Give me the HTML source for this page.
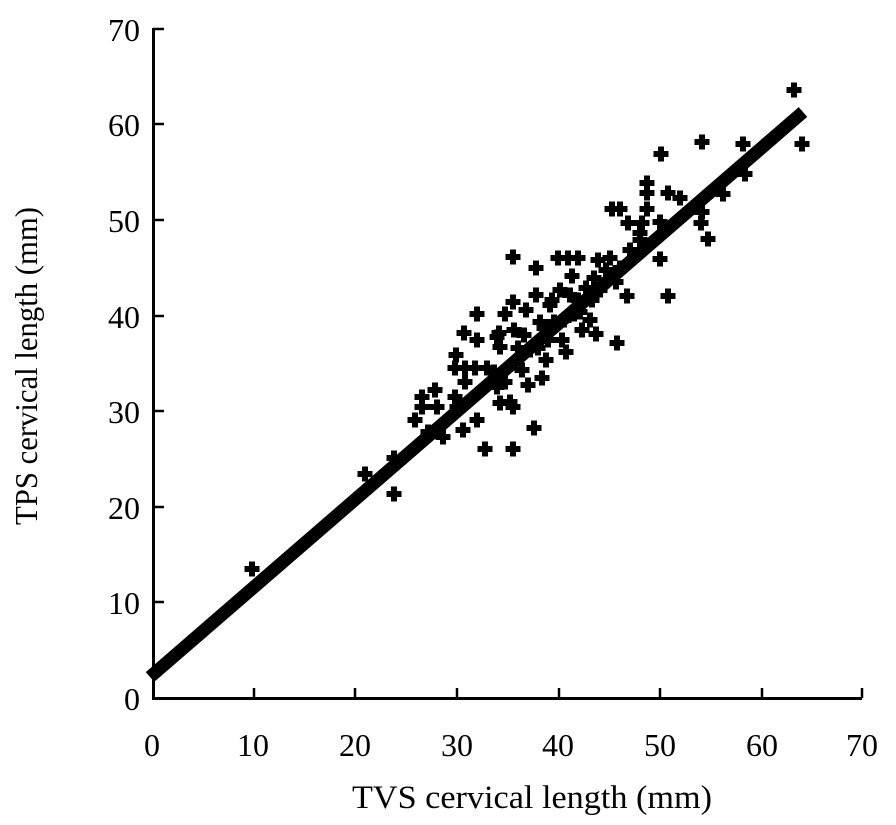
<!DOCTYPE html>
<html><head><meta charset="utf-8"><style>
html,body{margin:0;padding:0;background:#fff;}
svg{display:block;}
text{font-family:"Liberation Serif",serif;fill:#000;}
</style></head><body>
<svg width="896" height="825" viewBox="0 0 896 825" xmlns="http://www.w3.org/2000/svg">
<defs>
<path id="p" d="M-3,-7.5h6v4.5h4.5v6h-4.5v4.5h-6v-4.5h-4.5v-6h4.5z" fill="#000"/>
</defs>
<path d="M153.5,28V698.5H862" stroke="#000" stroke-width="3" fill="none"/>
<g stroke="#000" stroke-width="2.5">
<line x1="153" y1="602" x2="164" y2="602"/><line x1="153" y1="507" x2="164" y2="507"/>
<line x1="153" y1="411" x2="164" y2="411"/><line x1="153" y1="316" x2="164" y2="316"/>
<line x1="153" y1="220" x2="164" y2="220"/><line x1="153" y1="124" x2="164" y2="124"/>
<line x1="153" y1="29" x2="164" y2="29"/>
<line x1="254" y1="698" x2="254" y2="688"/><line x1="355" y1="698" x2="355" y2="688"/>
<line x1="457" y1="698" x2="457" y2="688"/><line x1="559" y1="698" x2="559" y2="688"/>
<line x1="660" y1="698" x2="660" y2="688"/><line x1="762" y1="698" x2="762" y2="688"/>
<line x1="862" y1="698" x2="862" y2="688"/>
</g>
<g font-size="32" text-anchor="end">
<text x="140" y="710">0</text><text x="140" y="614">10</text><text x="140" y="519">20</text>
<text x="140" y="423">30</text><text x="140" y="328">40</text><text x="140" y="232">50</text>
<text x="140" y="136">60</text><text x="140" y="41">70</text>
</g>
<g font-size="32" text-anchor="middle">
<text x="152" y="756">0</text><text x="253" y="756">10</text><text x="355" y="756">20</text>
<text x="457" y="756">30</text><text x="558" y="756">40</text><text x="660" y="756">50</text>
<text x="762" y="756">60</text><text x="862" y="756">70</text>
</g>
<text x="532" y="808" font-size="33" text-anchor="middle" textLength="360" lengthAdjust="spacingAndGlyphs">TVS cervical length (mm)</text>
<text transform="translate(37,366) rotate(-90)" font-size="32" text-anchor="middle" textLength="318" lengthAdjust="spacingAndGlyphs">TPS cervical length (mm)</text>
<line x1="150" y1="677" x2="803" y2="112" stroke="#000" stroke-width="13"/>
<g>
<use href="#p" x="252" y="569"/><use href="#p" x="365" y="474"/><use href="#p" x="394" y="458"/><use href="#p" x="394" y="494"/>
<use href="#p" x="415" y="420"/><use href="#p" x="422" y="397"/><use href="#p" x="422" y="407"/><use href="#p" x="435" y="390"/>
<use href="#p" x="437" y="407"/><use href="#p" x="443" y="437"/><use href="#p" x="428" y="432"/>
<use href="#p" x="513" y="257"/><use href="#p" x="513" y="302"/><use href="#p" x="477" y="314"/><use href="#p" x="505" y="314"/>
<use href="#p" x="464" y="333"/><use href="#p" x="477" y="340"/><use href="#p" x="499" y="333"/><use href="#p" x="456" y="355"/>
<use href="#p" x="455" y="368"/><use href="#p" x="465" y="368"/><use href="#p" x="475" y="368"/><use href="#p" x="487" y="368"/>
<use href="#p" x="465" y="382"/><use href="#p" x="455" y="397"/><use href="#p" x="457" y="407"/><use href="#p" x="477" y="420"/>
<use href="#p" x="463" y="430"/><use href="#p" x="485" y="449"/><use href="#p" x="513" y="449"/><use href="#p" x="500" y="403"/>
<use href="#p" x="513" y="407"/><use href="#p" x="497" y="337"/><use href="#p" x="500" y="347"/><use href="#p" x="494" y="372"/>
<use href="#p" x="497" y="387"/><use href="#p" x="505" y="382"/><use href="#p" x="510" y="402"/><use href="#p" x="514" y="330"/>
<use href="#p" x="518" y="348"/><use href="#p" x="522" y="370"/><use href="#p" x="524" y="335"/><use href="#p" x="526" y="310"/>
<use href="#p" x="528" y="385"/><use href="#p" x="530" y="350"/><use href="#p" x="534" y="428"/><use href="#p" x="536" y="268"/>
<use href="#p" x="536" y="295"/><use href="#p" x="538" y="348"/><use href="#p" x="540" y="322"/><use href="#p" x="542" y="378"/>
<use href="#p" x="544" y="328"/><use href="#p" x="546" y="360"/><use href="#p" x="548" y="340"/><use href="#p" x="550" y="305"/>
<use href="#p" x="552" y="300"/><use href="#p" x="554" y="322"/><use href="#p" x="558" y="258"/><use href="#p" x="560" y="290"/>
<use href="#p" x="562" y="340"/><use href="#p" x="564" y="320"/><use href="#p" x="566" y="352"/><use href="#p" x="568" y="258"/>
<use href="#p" x="570" y="295"/><use href="#p" x="572" y="276"/><use href="#p" x="574" y="314"/><use href="#p" x="578" y="258"/>
<use href="#p" x="578" y="300"/><use href="#p" x="580" y="312"/><use href="#p" x="582" y="330"/><use href="#p" x="586" y="288"/>
<use href="#p" x="590" y="320"/><use href="#p" x="592" y="300"/><use href="#p" x="594" y="278"/><use href="#p" x="596" y="334"/>
<use href="#p" x="598" y="260"/><use href="#p" x="600" y="290"/><use href="#p" x="606" y="270"/><use href="#p" x="610" y="258"/>
<use href="#p" x="617" y="343"/><use href="#p" x="620" y="268"/>
<use href="#p" x="794" y="90"/><use href="#p" x="802" y="144"/><use href="#p" x="743" y="144"/><use href="#p" x="702" y="142"/>
<use href="#p" x="661" y="154"/><use href="#p" x="647" y="183"/><use href="#p" x="647" y="193"/><use href="#p" x="668" y="193"/>
<use href="#p" x="680" y="198"/><use href="#p" x="612" y="209"/><use href="#p" x="620" y="209"/><use href="#p" x="647" y="209"/>
<use href="#p" x="628" y="223"/><use href="#p" x="642" y="223"/><use href="#p" x="660" y="222"/><use href="#p" x="640" y="233"/>
<use href="#p" x="640" y="240"/><use href="#p" x="701" y="223"/><use href="#p" x="702" y="212"/><use href="#p" x="708" y="239"/>
<use href="#p" x="723" y="194"/><use href="#p" x="745" y="174"/><use href="#p" x="660" y="259"/><use href="#p" x="627" y="296"/>
<use href="#p" x="668" y="296"/><use href="#p" x="630" y="250"/><use href="#p" x="616" y="282"/>
</g>
</svg>
</body></html>
